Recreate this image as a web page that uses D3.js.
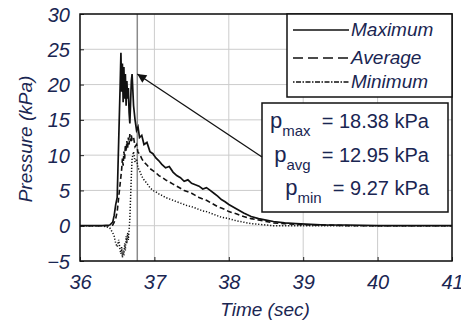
<!DOCTYPE html>
<html>
<head>
<meta charset="utf-8">
<script src="https://cdn.jsdelivr.net/npm/d3@7"></script>
<style>
  body { margin: 0; background: #fff; }
  text { font-family: "Liberation Sans", Arial, sans-serif; fill: #1a2652; }
  .grid line { stroke: #cccccc; stroke-width: 1; }
  .trace { fill: none; stroke: #111; }
</style>
</head>
<body>
<div id="chart"></div>
<script>
// shared time base (sec)
var time = [36.00, 36.30, 36.40, 36.44, 36.46, 36.48, 36.50, 36.52, 36.54, 36.55,
  36.56, 36.57, 36.58, 36.59, 36.60, 36.61, 36.62, 36.63, 36.64, 36.65,
  36.66, 36.67, 36.68, 36.69, 36.70, 36.72, 36.74, 36.76, 36.78, 36.80,
  36.83, 36.86, 36.90, 36.94, 36.98, 37.02, 37.06, 37.10, 37.15, 37.20,
  37.25, 37.30, 37.35, 37.40, 37.45, 37.50, 37.55, 37.60, 37.65, 37.70,
  37.75, 37.80, 37.85, 37.90, 37.95, 38.00, 38.10, 38.20, 38.30, 38.40,
  38.50, 38.60, 38.75, 38.90, 39.10, 39.30, 39.60, 40.00, 40.50, 41.00];

var maximum = [0, 0, 0.1, 0.5, 1.5, 3, 4, 12, 20, 24.5,
  19, 23, 17.5, 22.5, 18, 21.5, 17, 20.5, 18, 19.5,
  16, 14.5, 17.5, 20.5, 21.5, 17, 15, 13.5, 14, 12.5,
  12.8, 11.5, 11.8, 10.5, 10.2, 9.6, 9.2, 8.7, 8.2, 8.4,
  7.6, 7.1, 6.8, 6.3, 6.5, 6.0, 5.8, 5.6, 5.2, 5.4,
  5.0, 4.6, 4.2, 3.7, 3.4, 3.0, 2.4, 1.8, 1.3, 1.0,
  0.8, 0.6, 0.4, 0.3, 0.2, 0.1, 0.1, 0, 0, 0];

var average = [0, 0, 0, 0.1, 0.5, 1, 2, 4, 6, 7,
  8, 9.5, 8.5, 10.5, 9.5, 11.5, 10.5, 12, 11, 12.5,
  11.5, 13, 12, 12.8, 12.2, 12.5, 11.2, 11.5, 10.4, 10.2,
  9.5, 9.0, 8.6, 8.1, 7.8, 7.5, 7.1, 6.9, 6.5, 6.2,
  5.9, 5.6, 5.3, 5.0, 4.8, 4.6, 4.3, 4.0, 3.8, 3.6,
  3.3, 3.0, 2.7, 2.5, 2.3, 2.0, 1.7, 1.3, 1.0, 0.8,
  0.6, 0.4, 0.3, 0.2, 0.1, 0.1, 0, 0, 0, 0];

var minimum = [0, 0, -0.3, -1, -1.5, -2.5, -3, -2, -3.5, -4,
  -3, -4.5, -3.5, -4.2, -2.5, -3.5, -1.5, -2.5, -1, -2,
  -0.5, 1, 4, 7, 9.5, 10.5, 9, 9.5, 8.2, 7.8,
  7.0, 6.5, 6.0, 5.4, 5.0, 4.8, 4.5, 4.3, 4.0, 3.8,
  3.6, 3.4, 3.2, 3.0, 2.8, 2.7, 2.5, 2.3, 2.1, 2.0,
  1.8, 1.6, 1.4, 1.2, 1.1, 1.0, 0.7, 0.5, 0.3, 0.2,
  0.1, 0, 0, 0, 0, 0, 0, 0, 0, 0];

var xTicks = [36, 37, 38, 39, 40, 41];
var yTicks = [-5, 0, 5, 10, 15, 20, 25, 30];
var seriesNames = ["Maximum", "Average", "Minimum"];
var peakNames = ["max", "avg", "min"];
var peakValues = ["18.38", "12.95", "9.27"];
var markerTime = 36.77;
var arrowTip = [36.77, 21.5];

var W = 461, H = 326;
var margin = { top: 14, right: 9, bottom: 65, left: 80 },
  width = W - margin.left - margin.right,
  height = H - margin.top - margin.bottom;

var svg = d3.select("#chart").append("svg")
  .attr("width", W)
  .attr("height", H);

var g = svg.append("g")
  .attr("transform", "translate(" + margin.left + "," + margin.top + ")");

var xScale = d3.scaleLinear().domain([36, 41]).range([0, width]);
var yScale = d3.scaleLinear().domain([-5, 30]).range([height, 0]);

// grid
g.append("g").attr("class", "grid")
  .selectAll("line").data(xTicks).enter().append("line")
  .attr("x1", function (d) { return xScale(d); })
  .attr("x2", function (d) { return xScale(d); })
  .attr("y1", 0).attr("y2", height);
g.append("g").attr("class", "grid")
  .selectAll("line").data(yTicks).enter().append("line")
  .attr("y1", function (d) { return yScale(d); })
  .attr("y2", function (d) { return yScale(d); })
  .attr("x1", 0).attr("x2", width);

// axes with inward ticks
var xAxis = g.append("g")
  .attr("transform", "translate(0," + height + ")")
  .call(d3.axisBottom(xScale).tickValues(xTicks).tickSize(-4).tickPadding(10).tickFormat(d3.format("d")));
var yAxis = g.append("g")
  .call(d3.axisLeft(yScale).tickValues(yTicks).tickSize(-4).tickPadding(10).tickFormat(d3.format("d")));
[xAxis, yAxis].forEach(function (a) {
  a.select(".domain").remove();
  a.selectAll(".tick line").attr("stroke", "#222");
  a.selectAll("text")
    .style("font-size", "20px")
    .style("font-style", "italic")
    .style("fill", "#1a2652");
});
xAxis.selectAll("text").attr("dy", "0.92em");
yAxis.selectAll("text").attr("dy", "0.35em").attr("x", -10);

// marker line
g.append("line")
  .attr("x1", xScale(markerTime)).attr("x2", xScale(markerTime))
  .attr("y1", 0).attr("y2", height)
  .attr("stroke", "#8a8a8a").attr("stroke-width", 1.5);

// traces
var pts = function (vals) { return time.map(function (t, i) { return [t, vals[i]]; }); };
var line = d3.line()
  .x(function (d) { return xScale(d[0]); })
  .y(function (d) { return yScale(d[1]); });

var styles = [
  { data: maximum, dash: null, w: 1.7 },
  { data: average, dash: "5,3", w: 1.6 },
  { data: minimum, dash: "1.2,1.8", w: 1.5 }
];
styles.forEach(function (s) {
  g.append("path")
    .datum(pts(s.data))
    .attr("class", "trace")
    .attr("d", line)
    .attr("stroke-width", s.w)
    .attr("stroke-dasharray", s.dash);
});

// frame
g.append("rect")
  .attr("width", width).attr("height", height)
  .attr("fill", "none").attr("stroke", "#111").attr("stroke-width", 1.5);

// legend
var lg = g.append("g").attr("transform", "translate(" + (width - 165) + ",0)");
lg.append("rect").attr("width", 165).attr("height", 83)
  .attr("fill", "#fff").attr("stroke", "#111").attr("stroke-width", 1.5);
var legendDash = [null, "10,5", "1.5,1.5,5,1.5"];
var legendY = [16, 44, 68];
seriesNames.forEach(function (name, i) {
  lg.append("line")
    .attr("x1", 6).attr("x2", 62)
    .attr("y1", legendY[i]).attr("y2", legendY[i])
    .attr("stroke", "#111").attr("stroke-width", 1.5)
    .attr("stroke-dasharray", legendDash[i]);
  lg.append("text")
    .attr("x", 64).attr("y", legendY[i] + 6)
    .style("font-size", "19px").style("font-style", "italic")
    .text(name);
});

// values box
var bx = xScale(36) + 182, by = 89;
var box = g.append("g").attr("transform", "translate(" + bx + "," + by + ")");
box.append("rect").attr("width", 186).attr("height", 109)
  .attr("fill", "#fff").attr("stroke", "#111").attr("stroke-width", 1.5);
peakNames.forEach(function (n, i) {
  var t = box.append("text")
    .attr("x", 167).attr("y", 25 + i * 33.5)
    .attr("text-anchor", "end")
    .style("font-size", "20px");
  t.append("tspan").style("font-size", "22px").text("p");
  t.append("tspan").attr("dy", 8).style("font-size", "15px").text(n);
  t.append("tspan").attr("dy", -8).text("\u00a0\u00a0= " + peakValues[i] + " kPa");
});

// arrow
svg.append("defs").append("marker")
  .attr("id", "head").attr("viewBox", "0 0 10 10")
  .attr("refX", 10).attr("refY", 5)
  .attr("markerWidth", 14).attr("markerHeight", 9)
  .attr("markerUnits", "userSpaceOnUse")
  .attr("orient", "auto")
  .append("path").attr("d", "M0,0L10,5L0,10z").attr("fill", "#111");
g.append("line")
  .attr("x1", bx).attr("y1", by + 54)
  .attr("x2", xScale(arrowTip[0])).attr("y2", yScale(arrowTip[1]))
  .attr("stroke", "#111").attr("stroke-width", 1.3)
  .attr("marker-end", "url(#head)");

// axis titles
svg.append("text")
  .attr("x", 265).attr("y", 316)
  .attr("text-anchor", "middle")
  .style("font-size", "19px").style("font-style", "italic")
  .text("Time (sec)");
svg.append("text")
  .attr("transform", "translate(32,139) rotate(-90)")
  .attr("text-anchor", "middle")
  .style("font-size", "19px").style("font-style", "italic")
  .text("Pressure (kPa)");
</script>
</body>
</html>
